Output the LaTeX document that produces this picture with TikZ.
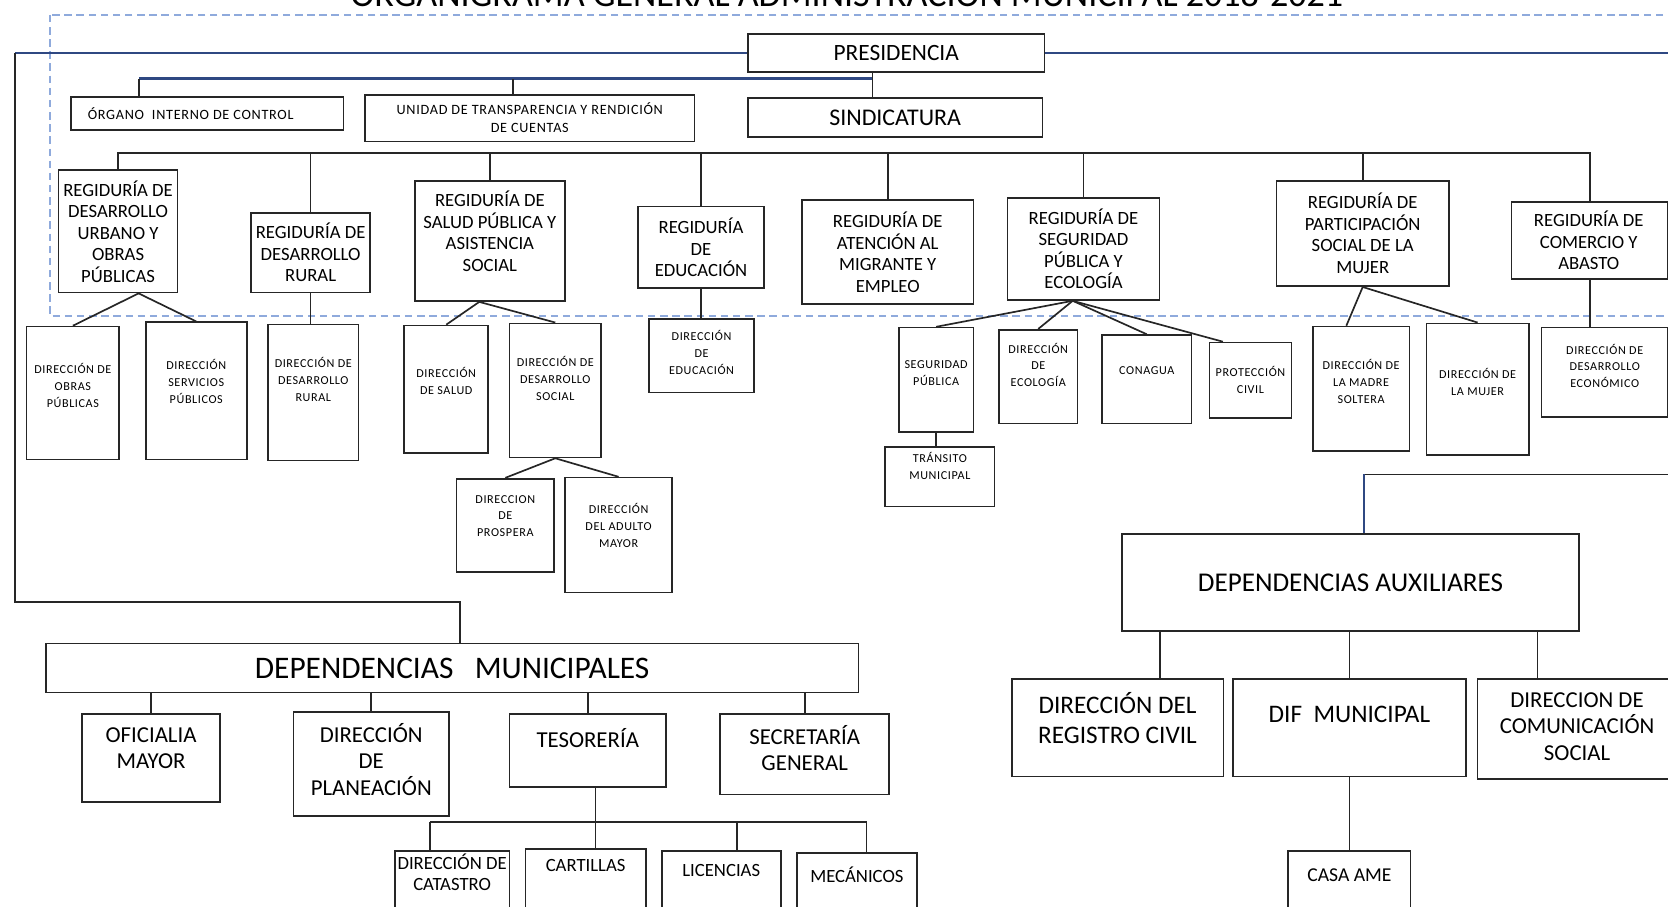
\documentclass[tikz,border=0pt]{standalone}
\usepackage{fontspec}
\setmainfont{Carlito}
\newfontfamily\spacedfont[LetterSpace=5]{Carlito}
\usepackage{tikz}
\usetikzlibrary{calc,fit}
\definecolor{navyline}{RGB}{47,72,130}
\definecolor{frameblue}{RGB}{143,170,220}
\definecolor{boxline}{RGB}{38,38,38}

\begin{document}
\begin{tikzpicture}[x=0.02cm, y=-0.02cm,
    box/.style={draw=boxline, line width=0.9pt, inner sep=0pt},
    link/.style={draw=boxline, line width=0.9pt},
    navyln/.style={draw=navyline, line width=1.4pt},
    dashframe/.style={draw=frameblue, line width=0.9pt, dash pattern=on 4pt off 2.5pt},
    bigtxt/.style={align=center, inner sep=0pt, font=\fontsize{12.8}{16}\selectfont},
    auxtxt/.style={align=center, inner sep=0pt, font=\fontsize{13.5}{16}\selectfont},
    midtxt/.style={align=center, inner sep=0pt, font=\fontsize{12.2}{14}\selectfont},
    regtxt/.style={align=center, inner sep=0pt, font=\fontsize{10}{11.5}\selectfont},
    smalltxt/.style={align=center, inner sep=0pt, font=\spacedfont\fontsize{7.6}{9.6}\selectfont},
    tinytxt/.style={align=center, inner sep=0pt, font=\spacedfont\fontsize{6.5}{9}\selectfont},
    lift/.style={yshift=#1*0.02cm},
    nudge/.style={xshift=#1*0.02cm},
  ]
  \useasboundingbox (0,0) rectangle (1568,852);
  \clip (0,0) rectangle (1568,852);

  \node[font=\fontsize{19.3}{22}\selectfont, anchor=base] (title) at (796,6) {ORGANIGRAMA GENERAL ADMINISTRACIÓN MUNICIPAL 2018-2021};
  \draw[dashframe] (47,14) rectangle (1590,297);

  % presidencia y sindicatura
  \node[box, fit={(703,32) (982,68)}, label={[bigtxt, font=\fontsize{12.5}{16}\selectfont]center:PRESIDENCIA}] (pres) {};
  \node[box, fit={(67,91) (323,122)}, label={[smalltxt, anchor=west, nudge=16]west:ÓRGANO~~INTERNO DE CONTROL}] (oic) {};
  \node[box, fit={(343,89) (653,133)}, label={[smalltxt]center:UNIDAD DE TRANSPARENCIA Y RENDICIÓN\\DE CUENTAS}] (ut) {};
  \node[box, fit={(703,92) (980,129)}, label={[bigtxt]center:SINDICATURA}] (sind) {};

  % regidurias
  \node[box, fit={(55,160) (167,275)}, label={[regtxt]center:REGIDURÍA DE\\DESARROLLO\\URBANO Y\\OBRAS\\PÚBLICAS}] (r1) {};
  \node[box, fit={(236,200) (348,275)}, label={[regtxt]center:REGIDURÍA DE\\DESARROLLO\\RURAL}] (r2) {};
  \node[box, fit={(390,170) (531,283)}, label={[regtxt, lift=9]center:REGIDURÍA DE\\SALUD PÚBLICA Y\\ASISTENCIA\\SOCIAL}] (r3) {};
  \node[box, fit={(600,194) (718,271)}, label={[regtxt]center:REGIDURÍA\\DE\\EDUCACIÓN}] (r4) {};
  \node[box, fit={(754,188) (915,286)}, label={[regtxt]center:REGIDURÍA DE\\ATENCIÓN AL\\MIGRANTE Y\\EMPLEO}] (r5) {};
  \node[box, fit={(947,186) (1090,282)}, label={[regtxt]center:REGIDURÍA DE\\SEGURIDAD\\PÚBLICA Y\\ECOLOGÍA}] (r6) {};
  \node[box, fit={(1200,170) (1362,269)}, label={[regtxt]center:REGIDURÍA DE\\PARTICIPACIÓN\\SOCIAL DE LA\\MUJER}] (r7) {};
  \node[box, fit={(1421,190) (1568,262)}, label={[regtxt, nudge=-1]center:REGIDURÍA DE\\COMERCIO Y\\ABASTO}] (r8) {};

  % direcciones
  \node[box, fit={(25,307) (112,432)}, label={[tinytxt, lift=7]center:DIRECCIÓN DE\\OBRAS\\PÚBLICAS}] (dop) {};
  \node[box, fit={(137,303) (232,432)}, label={[tinytxt, lift=9]center:DIRECCIÓN\\SERVICIOS\\PÚBLICOS}] (dsp) {};
  \node[box, fit={(252,305) (337,433)}, label={[tinytxt, lift=12]center:DIRECCIÓN DE\\DESARROLLO\\RURAL}] (ddr) {};
  \node[box, fit={(380,306) (459,426)}, label={[tinytxt, lift=8]center:DIRECCIÓN\\DE SALUD}] (dsa) {};
  \node[box, fit={(479,304) (565,430)}, label={[tinytxt, lift=11]center:DIRECCIÓN DE\\DESARROLLO\\SOCIAL}] (dds) {};
  \node[box, fit={(429,450) (521,538)}, label={[tinytxt, lift=9]center:DIRECCION\\DE\\PROSPERA}] (dpr) {};
  \node[box, fit={(531,449) (632,557)}, label={[tinytxt, lift=9]center:DIRECCIÓN\\DEL ADULTO\\MAYOR}] (dam) {};
  \node[box, fit={(610,300) (709,369)}, label={[tinytxt, lift=3]center:DIRECCIÓN\\DE\\EDUCACIÓN}] (ded) {};
  \node[box, fit={(845,308) (915,406)}, label={[tinytxt, lift=6]center:SEGURIDAD\\PÚBLICA}] (sp) {};
  \node[box, fit={(939,310) (1013,398)}, label={[tinytxt, lift=11]center:DIRECCIÓN\\DE\\ECOLOGÍA}] (dec) {};
  \node[box, fit={(1036,315) (1120,398)}, label={[tinytxt, lift=8]center:CONAGUA}] (cna) {};
  \node[box, fit={(1137,322) (1214,393)}, label={[tinytxt]center:PROTECCIÓN\\CIVIL}] (pc) {};
  \node[box, fit={(832,420) (935,476)}, label={[tinytxt, lift=10]center:TRÁNSITO\\MUNICIPAL}] (tm) {};
  \node[box, fit={(1234,307) (1325,424)}, label={[tinytxt, lift=7]center:DIRECCIÓN DE\\LA MADRE\\SOLTERA}] (dms) {};
  \node[box, fit={(1341,304) (1437,428)}, label={[tinytxt, lift=7]center:DIRECCIÓN DE\\LA MUJER}] (dmu) {};
  \node[box, fit={(1449,308) (1568,392)}, label={[tinytxt, lift=6]center:DIRECCIÓN DE\\DESARROLLO\\ECONÓMICO}] (dde) {};

  % dependencias auxiliares
  \node[box, fit={(1055,502) (1484,593)}, label={[bigtxt, font=\fontsize{14.5}{17}\selectfont]center:DEPENDENCIAS AUXILIARES}] (da) {};
  \node[box, fit={(951,638) (1150,730)}, label={[auxtxt, lift=9]center:DIRECCIÓN DEL\\REGISTRO CIVIL}] (rc) {};
  \node[box, fit={(1159,638) (1378,730)}, label={[auxtxt, lift=12]center:DIF~~MUNICIPAL}] (dif) {};
  \node[box, fit={(1389,638) (1578,732)}, label={[midtxt, nudge=-1, lift=2]center:DIRECCION DE\\COMUNICACIÓN\\SOCIAL}] (cs) {};
  \node[box, fit={(1211,800) (1326,870)}, label={[regtxt, font=\fontsize{10.5}{12}\selectfont, lift=12]center:CASA AME}] (ame) {};

  % dependencias municipales
  \node[box, fit={(43,605) (807,651)}, label={[font=\fontsize{16.8}{19}\selectfont, inner sep=0pt]center:DEPENDENCIAS~~~MUNICIPALES}] (dm) {};
  \node[box, fit={(77,671) (207,754)}, label={[midtxt, lift=9]center:OFICIALIA\\MAYOR}] (om) {};
  \node[box, fit={(276,669) (422,767)}, label={[midtxt, lift=4]center:DIRECCIÓN\\DE\\PLANEACIÓN}] (pl) {};
  \node[box, fit={(479,671) (626,740)}, label={[midtxt, lift=12]center:TESORERÍA}] (te) {};
  \node[box, fit={(677,671) (836,747)}, label={[midtxt, lift=6]center:SECRETARÍA\\GENERAL}] (sg) {};
  \node[box, fit={(371,800) (479,870)}, label={[regtxt, lift=15]center:DIRECCIÓN DE\\CATASTRO}] (cat) {};
  \node[box, fit={(494,798) (607,870)}, label={[regtxt, lift=20]center:CARTILLAS}] (car) {};
  \node[box, fit={(622,800) (734,870)}, label={[regtxt, lift=17]center:LICENCIAS}] (lic) {};
  \node[box, fit={(749,802) (862,870)}, label={[regtxt, lift=14]center:MECÁNICOS}] (mec) {};

  % lineas de mando
  \coordinate (lft) at (14,47);
  \coordinate (lbot) at (14,566);
  \coordinate (rgt) at (1590,47);
  \coordinate (dmx) at ($(dm.north west)!.51!(dm.north east)$);
  \draw[navyln] (pres.west -| lft) -- (pres.west);
  \draw[navyln] (pres.east) -- (pres.east -| rgt);
  \draw[link] (pres.west -| lft) -- (lbot) -| (dmx);

  \coordinate (obus) at (0,74);
  \coordinate (oicx) at ($(oic.north west)!.25!(oic.north east)$);
  \coordinate (utx) at ($(ut.north west)!.45!(ut.north east)$);
  \coordinate (presx) at ($(pres.south west)!.42!(pres.south east)$);
  \draw[navyln] (oicx |- obus) -- (presx |- obus);
  \draw[link] (oicx) -- (oicx |- obus);
  \draw[link] (utx) -- (utx |- obus);
  \draw[link] (presx) -- (presx |- sind.north);

  \coordinate (rbus) at (0,144);
  \draw[link] (r1.north) -- (r1.north |- rbus) -- (r8.north |- rbus) -- (r8.north);
  \foreach \n in {r2,r3,r4,r5,r6,r7}
    \draw[link] (\n.north) -- (\n.north |- rbus);

  \coordinate (r1b) at ($(r1.south west)!.67!(r1.south east)$);
  \draw[link] (dop.north) -- (r1b) -- (dsp.north);
  \draw[link] (r2.south) -- (r2.south |- ddr.north);
  \coordinate (r3b) at ($(r3.south west)!.43!(r3.south east)$);
  \draw[link] (dsa.north) -- (r3b) -- (dds.north);
  \draw[link] (dpr.north) -- (dds.south) -- (dam.north);
  \draw[link] (r4.south) -- (r4.south |- ded.north);
  \coordinate (r6b) at ($(r6.south west)!.43!(r6.south east)$);
  \foreach \n in {sp,dec,cna}
    \draw[link] (r6b) -- (\n.north);
  \draw[link] (r6b) -- ($(pc.north west)!.17!(pc.north east)$);
  \draw[link] (sp.south) -- (sp.south |- tm.north);
  \draw[link] ($(dms.north west)!.35!(dms.north east)$) -- (r7.south) -- (dmu.north);
  \draw[link] (r8.south) -- (r8.south |- dde.north);

  % auxiliares
  \coordinate (dar) at (1590,446);
  \coordinate (dax) at ($(da.north west)!.53!(da.north east)$);
  \draw[link] (dar) -- (dax |- dar);
  \draw[navyln, line width=1pt] (dax |- dar) -- (dax);
  \coordinate (rcx) at ($(rc.north west)!.70!(rc.north east)$);
  \coordinate (csx) at ($(cs.north west)!.30!(cs.north east)$);
  \draw[link] (rcx) -- (rcx |- da.south);
  \draw[link] (dif.north) -- (dif.north |- da.south);
  \draw[link] (csx) -- (csx |- da.south);
  \draw[link] (dif.south) -- (ame.north);

  % municipales
  \foreach \n in {om,pl,te,sg}
    \draw[link] (\n.north) -- (\n.north |- dm.south);
  \coordinate (tbus) at (0,773);
  \coordinate (catx) at ($(cat.north west)!.31!(cat.north east)$);
  \coordinate (carx) at ($(car.north west)!.58!(car.north east)$);
  \coordinate (licx) at ($(lic.north west)!.63!(lic.north east)$);
  \coordinate (mecx) at ($(mec.north west)!.58!(mec.north east)$);
  \draw[link] (carx |- te.south) -- (carx);
  \draw[link] (catx |- tbus) -- (mecx |- tbus);
  \foreach \n in {catx,licx,mecx}
    \draw[link] (\n) -- (\n |- tbus);
\end{tikzpicture}
\end{document}
